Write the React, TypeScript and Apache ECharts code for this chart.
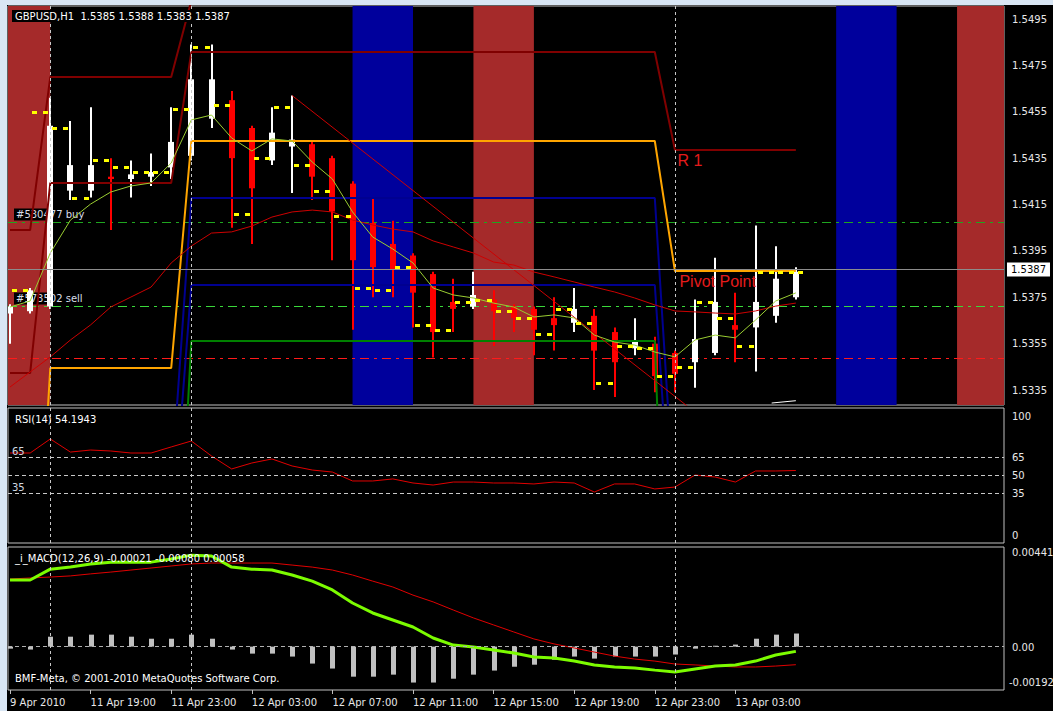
import React, { useEffect, useRef } from 'react';
import * as echarts from 'echarts';

const symbolHeader = 'GBPUSD,H1  1.5385 1.5388 1.5383 1.5387';
const rsiHeader = 'RSI(14) 54.1943';
const macdHeader = '_i_MACD(12,26,9) -0.00021 -0.00080 0.00058';
const copyright = 'BMF-Meta, \u00a9 2001-2010 MetaQuotes Software Corp.';

const timeLabels = ['9 Apr 2010', '11 Apr 19:00', '11 Apr 23:00', '12 Apr 03:00', '12 Apr 07:00', '12 Apr 11:00', '12 Apr 15:00', '12 Apr 19:00', '12 Apr 23:00', '13 Apr 03:00'];

const opens = [1.5368, 1.5369, 1.5371, 1.5421, 1.5421, 1.5427, 1.5426, 1.5427, 1.5431, 1.5436, 1.5452, 1.5460, 1.5448, 1.5434, 1.5440, 1.5441, 1.5435, 1.5424, 1.5407, 1.5398, 1.5393, 1.5385, 1.5373, 1.5371, 1.5374, 1.5371, 1.5370, 1.5366, 1.5364, 1.5367, 1.5360, 1.5353, 1.5355, 1.5351, 1.5347, 1.5351, 1.5363, 1.5362, 1.5367, 1.5375];
const closes = [1.5371, 1.5378, 1.5449, 1.5432, 1.5432, 1.5426, 1.5428, 1.5429, 1.5442, 1.5469, 1.5469, 1.5435, 1.5422, 1.5446, 1.5443, 1.5427, 1.5412, 1.5391, 1.5388, 1.5387, 1.5377, 1.5360, 1.5370, 1.5376, 1.5369, 1.5366, 1.5361, 1.5363, 1.5370, 1.5352, 1.5347, 1.5356, 1.5341, 1.5342, 1.5357, 1.5373, 1.5361, 1.5373, 1.5383, 1.5386];
const lows = [1.5355, 1.5368, 1.5370, 1.5417, 1.5418, 1.5404, 1.5418, 1.5423, 1.5426, 1.5434, 1.5448, 1.5405, 1.5398, 1.5432, 1.5420, 1.5417, 1.5391, 1.5361, 1.5375, 1.5375, 1.5362, 1.5349, 1.5360, 1.5370, 1.5354, 1.5360, 1.5350, 1.5352, 1.5360, 1.5335, 1.5332, 1.5350, 1.5334, 1.5334, 1.5336, 1.5350, 1.5347, 1.5343, 1.5364, 1.5374];
const highs = [1.5372, 1.5379, 1.5461, 1.5451, 1.5457, 1.5435, 1.5434, 1.5437, 1.5457, 1.5484, 1.5484, 1.5464, 1.5449, 1.5457, 1.5462, 1.5442, 1.5436, 1.5425, 1.5418, 1.5408, 1.5394, 1.5386, 1.5383, 1.5386, 1.5378, 1.5372, 1.5371, 1.5375, 1.5379, 1.5370, 1.5362, 1.5366, 1.5358, 1.5352, 1.5374, 1.5392, 1.5377, 1.5406, 1.5397, 1.5388];

const yellowStart = 1.5377;
const yellowMarks = [1.5378, 1.5455, 1.5448, 1.5418, 1.5434, 1.5431, 1.5429, 1.5429, 1.5456, 1.5483, 1.5458, 1.5411, 1.5435, 1.5457, 1.5432, 1.5421, 1.5410, 1.5379, 1.5378, 1.5388, 1.5363, 1.5361, 1.5373, 1.5374, 1.5369, 1.5366, 1.5359, 1.5370, 1.5364, 1.5338, 1.5354, 1.5353, 1.5341, 1.5345, 1.5373, 1.5366, 1.5354, 1.5386, 1.5386, 1.5386];

const fastMA = [1.53708, 1.53734, 1.53941, 1.54083, 1.54152, 1.54204, 1.5423, 1.54243, 1.54329, 1.54515, 1.54536, 1.54437, 1.54381, 1.54433, 1.54424, 1.54333, 1.5426, 1.54118, 1.5401, 1.53958, 1.53898, 1.5379, 1.5376, 1.53747, 1.53725, 1.53708, 1.53665, 1.53674, 1.53661, 1.53587, 1.53557, 1.53544, 1.53514, 1.53493, 1.53566, 1.53587, 1.53575, 1.53652, 1.53734, 1.53769];
const slowMA = [1.53363, 1.53428, 1.53493, 1.53566, 1.53631, 1.53708, 1.53751, 1.53794, 1.53898, 1.53971, 1.54027, 1.54032, 1.54057, 1.54096, 1.54118, 1.54126, 1.54118, 1.54083, 1.54062, 1.54044, 1.54032, 1.53993, 1.53967, 1.53941, 1.53902, 1.53889, 1.53859, 1.53838, 1.53816, 1.53794, 1.53773, 1.53747, 1.53717, 1.53691, 1.53687, 1.53682, 1.53678, 1.53691, 1.53712, 1.53725];

const daySpans = [[0, 1], [2, 8], [9, 32], [33, 39]];
const r1Levels = [1.53423, 1.54243, 1.54808, 1.54385];
const r2Levels = [1.5404, 1.5470, 1.5503, null];
const pivotLevels = [1.5200, 1.53445, 1.54424, 1.53863];
const s1Levels = [1.5292, 1.5292, 1.54178, 1.5280];
const s2Levels = [1.5268, 1.5268, 1.53803, 1.5251];
const s3Levels = [1.5194, 1.5194, 1.53561, 1.5124];

const trendLine = [[14, 1.5462], [35, 1.53186]];
const whiteSegment = [[37.8, 1.53294], [39, 1.53304]];

const orderLevels = [1.54075, 1.53712, 1.53488];
const orderLabels = ['#530477 buy', '#573502 sell', ''];
const orderColors = ['#1fa51f', '#3ad83a', '#ff1a1a'];
const lastPrice = 1.5387;

const redBands = [[-1, 2], [23, 26], [47, 50]];
const blueBands = [[17, 20], [41, 44]];
const daySeparators = [2, 9, 33];

const rsiValues = [68.9, 68.9, 80.7, 69.7, 71.4, 70.6, 68.9, 68.9, 74.0, 79.0, 66.4, 55.5, 60.5, 63.9, 58.0, 54.6, 52.9, 45.4, 45.4, 47.1, 43.7, 42.0, 44.5, 44.5, 43.7, 43.7, 42.9, 44.5, 43.7, 36.1, 42.9, 42.9, 38.7, 40.3, 50.4, 48.7, 44.5, 53.8, 53.8, 54.19];
const rsiLevels = [65, 50, 35];
const rsiTickLabels = [0, 35, 50, 65, 100];

const macdMain = [0.00295, 0.00295, 0.00343, 0.00352, 0.00366, 0.00374, 0.00374, 0.00374, 0.00388, 0.00405, 0.00401, 0.00352, 0.00343, 0.00339, 0.00317, 0.0029, 0.00251, 0.00193, 0.00149, 0.00118, 0.00087, 0.00038, 0.00007, -0.00002, -0.00015, -0.00028, -0.00046, -0.0005, -0.00064, -0.00081, -0.0009, -0.00095, -0.00104, -0.00112, -0.00099, -0.00086, -0.00081, -0.00064, -0.00037, -0.00021];
const macdSignal = [0.00299, 0.00304, 0.00308, 0.00313, 0.00322, 0.0033, 0.00339, 0.00348, 0.00357, 0.00366, 0.0037, 0.0037, 0.0037, 0.0037, 0.00361, 0.00352, 0.00339, 0.00317, 0.0029, 0.00264, 0.00228, 0.00198, 0.00162, 0.00127, 0.00096, 0.00065, 0.00034, 0.00012, -0.00006, -0.00024, -0.00042, -0.00055, -0.00064, -0.00077, -0.00081, -0.00086, -0.0009, -0.0009, -0.00086, -0.0008];
const macdHist = [-0.00009, -0.00013, 0.00044, 0.00044, 0.00053, 0.00053, 0.00044, 0.00035, 0.00035, 0.00053, 0.00035, -0.00013, -0.00031, -0.00031, -0.00044, -0.00075, -0.00097, -0.00133, -0.00133, -0.00124, -0.00159, -0.00159, -0.00142, -0.00124, -0.00106, -0.00089, -0.0008, -0.00058, -0.00044, -0.00053, -0.00044, -0.00044, -0.00044, -0.00035, -0.00009, 0.00004, 0.00009, 0.00035, 0.00053, 0.00058];

const priceAxisMin = 1.5335;
const priceAxisMax = 1.5495;
const priceAxisStep = 0.002;
const macdTop = 0.00441;
const macdBottom = -0.00192;

const X_MIN = -0.09926;
const X_MAX = 49.33;
const MAIN_MIN = 1.532855;
const MAIN_MAX = 1.550061;
const FONT = 'DejaVu Sans';
const TXT = '#e8e8e8';
const FRAME = '#c0c0c0';
const DASH_DOT = [9, 5, 3, 5];

function expandLevels(levels: (number | null)[]) {
  const out: number[][] = [];
  daySpans.forEach(([a, b], d) => {
    const v = levels[d];
    if (v == null) return;
    for (let k = a; k <= b; k++) out.push([k, v]);
  });
  return out;
}
const pairs = (arr: number[]) => arr.map((v, k) => [k, v]);

function buildOption(): any {
  const gridBase = { containLabel: false, outerBoundsMode: 'none' };
  const framed = { show: true, borderColor: FRAME, borderWidth: 1, backgroundColor: 'transparent' };
  const grid = [
    { left: 8, top: 6, width: 996, height: 399, ...framed },
    { left: 8, top: 19, width: 996, height: 371, show: false },
    { left: 8, top: 416, width: 996, height: 119, show: false },
    { left: 8, top: 408, width: 996, height: 135, ...framed },
    { left: 8, top: 547, width: 996, height: 143, ...framed },
    { left: 8, top: 552, width: 996, height: 95, show: false },
    { left: 8, top: 647, width: 996, height: 35, show: false },
    { left: 10, top: 680, width: 725.4, height: 10, show: false },
  ].map((g) => ({ ...gridBase, ...g }));

  const hiddenX = (i: number) => ({ type: 'value', gridIndex: i, min: X_MIN, max: X_MAX, show: false });
  const labelStyle = { color: TXT, fontSize: 10, fontFamily: FONT };

  const xAxis: any[] = [0, 1, 2, 3, 4, 5, 6].map(hiddenX);
  xAxis.push({
    type: 'category', gridIndex: 7, data: timeLabels, boundaryGap: false, position: 'bottom',
    axisLine: { show: false },
    axisTick: { show: true, length: 4, interval: 0, lineStyle: { color: FRAME } },
    axisLabel: { ...labelStyle, interval: 0, align: 'left', margin: 7 },
    splitLine: { show: false },
  });

  const yAxis: any[] = [
    { type: 'value', gridIndex: 0, min: MAIN_MIN, max: MAIN_MAX, show: false },
    {
      type: 'value', gridIndex: 1, position: 'right', min: priceAxisMin, max: priceAxisMax, interval: priceAxisStep,
      axisLine: { show: false }, splitLine: { show: false },
      axisTick: { show: true, length: 4, lineStyle: { color: FRAME } },
      axisLabel: { ...labelStyle, margin: 8, formatter: (v: number) => v.toFixed(4) },
    },
    {
      type: 'value', gridIndex: 2, position: 'right', min: 0, max: 100, interval: 5,
      axisLine: { show: false }, splitLine: { show: false }, axisTick: { show: false },
      axisLabel: {
        ...labelStyle, margin: 8,
        formatter: (v: number) => (Math.abs(v - Math.round(v)) < 1e-6 && rsiTickLabels.includes(Math.round(v)) ? String(Math.round(v)) : ''),
      },
    },
    { type: 'value', gridIndex: 3, min: 0, max: 1, show: false },
    { type: 'value', gridIndex: 4, min: macdBottom, max: macdTop, show: false },
    {
      type: 'value', gridIndex: 5, position: 'right', min: 0, max: macdTop, interval: macdTop,
      axisLine: { show: false }, splitLine: { show: false }, axisTick: { show: false },
      axisLabel: { ...labelStyle, margin: 8, formatter: (v: number) => (Math.abs(v) < 1e-9 ? '0.00' : v.toFixed(5)) },
    },
    {
      type: 'value', gridIndex: 6, position: 'right', min: macdBottom, max: 0, interval: -macdBottom,
      axisLine: { show: false }, splitLine: { show: false }, axisTick: { show: false },
      axisLabel: { ...labelStyle, margin: 5, formatter: (v: number) => (v < -1e-9 ? v.toFixed(5) : '') },
    },
    { type: 'value', gridIndex: 7, min: 0, max: 1, show: false },
  ];

  const sepLines = daySeparators.map((k) => ({ xAxis: k, lineStyle: { color: '#c8c8c8', type: [3, 3], width: 1 }, label: { show: false } }));
  const clampX = (v: number) => Math.min(X_MAX, Math.max(X_MIN, v));
  const bandData = [
    ...redBands.map(([a, b]) => [{ xAxis: clampX(a), itemStyle: { color: '#a52a2a' } }, { xAxis: clampX(b) }]),
    ...blueBands.map(([a, b]) => [{ xAxis: clampX(a), itemStyle: { color: '#00009c' } }, { xAxis: clampX(b) }]),
  ];

  const mainLine = (name: string, data: number[][], color: string, width: number, z: number, extra: any = {}) => ({
    name, type: 'line', xAxisIndex: 0, yAxisIndex: 0, data, symbol: 'none', silent: true, z, color,
    lineStyle: { color, width }, clip: true, ...extra,
  });
  const levelLabel = (k: number, v: number, text: string, off: number[]) => ({
    symbol: 'none', silent: true,
    data: [{
      coord: [k, v], symbol: 'rect', symbolSize: 1, itemStyle: { color: 'rgba(0,0,0,0)' },
      label: { show: true, position: off, formatter: text, color: '#e41b1b', fontSize: 16, fontFamily: 'Liberation Sans', align: 'left', verticalAlign: 'top' },
    }],
  });

  const series: any[] = [
    {
      type: 'line', xAxisIndex: 0, yAxisIndex: 0, data: [], z: 1, silent: true,
      markArea: { silent: true, data: bandData },
    },
    {
      type: 'custom', name: 'orders', xAxisIndex: 0, yAxisIndex: 0, z: 2, silent: true,
      data: orderLevels.map((lv) => [X_MIN, lv]),
      encode: { x: 0, y: 1 },
      renderItem: (params: any, api: any) => {
        const i = params.dataIndex;
        const cs = params.coordSys;
        const y = Math.round(api.coord([X_MIN, api.value(1)])[1]) + 0.5;
        const children: any[] = [
          {
            type: 'line', shape: { x1: cs.x, y1: y, x2: cs.x + cs.width, y2: y },
            style: { stroke: orderColors[i], lineWidth: 1, lineDash: DASH_DOT },
          },
        ];
        if (orderLabels[i]) {
          children.push({
            type: 'text', x: cs.x + 6, y: y - 2,
            style: {
              text: orderLabels[i], fill: '#d8dde8', font: `10px "${FONT}"`, backgroundColor: '#000',
              padding: [1, 2], verticalAlign: 'bottom', align: 'left',
            },
          });
        }
        return { type: 'group', children };
      },
    },
    {
      type: 'line', xAxisIndex: 0, yAxisIndex: 0, data: [], z: 2, silent: true, color: '#8c8c8c',
      markLine: {
        silent: true, symbol: ['none', 'none'], precision: 8,
        data: [
          {
            yAxis: lastPrice, lineStyle: { color: '#8c8c8c', type: 'solid', width: 1 },
            label: {
              show: true, position: 'end', distance: 3, formatter: lastPrice.toFixed(4), color: '#000',
              backgroundColor: '#fff', padding: [2, 4], fontSize: 10, fontFamily: FONT,
            },
          },
          ...sepLines,
        ],
      },
    },
    {
      type: 'custom', name: 'candles', xAxisIndex: 0, yAxisIndex: 0, z: 3, silent: true, clip: true,
      data: opens.map((o, k) => [k, o, closes[k], lows[k], highs[k]]),
      encode: { x: 0, y: [1, 2, 3, 4] },
      renderItem: (params: any, api: any) => {
        const k = api.value(0);
        const o = api.value(1), c = api.value(2), l = api.value(3), h = api.value(4);
        const pH = api.coord([k, h]);
        const pL = api.coord([k, l]);
        const pO = api.coord([k, o]);
        const pC = api.coord([k, c]);
        const color = c >= o ? '#ffffff' : '#ff0000';
        const cx = Math.round(pH[0]);
        const top = Math.min(pO[1], pC[1]);
        const bh = Math.max(Math.abs(pO[1] - pC[1]), 1.5);
        return {
          type: 'group',
          children: [
            { type: 'rect', shape: { x: cx - 1, y: pH[1], width: 2, height: Math.max(pL[1] - pH[1], 1) }, style: { fill: color } },
            { type: 'rect', shape: { x: cx - 3, y: top, width: 6, height: bh }, style: { fill: color } },
          ],
        };
      },
    },
    mainLine('R2', expandLevels(r2Levels), '#800000', 2, 4),
    mainLine('R1', expandLevels(r1Levels), '#800000', 2, 4, { markPoint: levelLabel(33, r1Levels[3] as number, 'R 1', [3, 3]) }),
    mainLine('S1', expandLevels(s1Levels), '#000090', 2, 4),
    mainLine('S2', expandLevels(s2Levels), '#000090', 2, 4),
    mainLine('S3', expandLevels(s3Levels), '#008000', 2, 4),
    mainLine('Pivot', expandLevels(pivotLevels), '#ffa500', 2, 4, { markPoint: levelLabel(33, pivotLevels[3] as number, 'Pivot Point', [5, 3]) }),
    mainLine('Trend', trendLine, '#cc0000', 1, 4),
    mainLine('SlowMA', pairs(slowMA), '#cc0000', 1, 4),
    mainLine('FastMA', pairs(fastMA), '#9acd32', 1, 4),
    mainLine('White', whiteSegment, '#ffffff', 1, 4),
    {
      type: 'custom', name: 'yellow', xAxisIndex: 0, yAxisIndex: 0, z: 5, silent: true, clip: true,
      data: yellowMarks.map((v, k) => [k, k > 0 ? yellowMarks[k - 1] : yellowStart, v]),
      encode: { x: 0, y: [1, 2] },
      renderItem: (params: any, api: any) => {
        const k = api.value(0);
        const pp = api.coord([k, api.value(1)]);
        const pc = api.coord([k, api.value(2)]);
        const cx = Math.round(pc[0]);
        return {
          type: 'group',
          children: [
            { type: 'rect', shape: { x: cx - 7, y: Math.round(pp[1]) - 1, width: 5, height: 3 }, style: { fill: '#ffff00' } },
            { type: 'rect', shape: { x: cx + 2, y: Math.round(pc[1]) - 1, width: 5, height: 3 }, style: { fill: '#ffff00' } },
          ],
        };
      },
    },
    {
      type: 'line', name: 'RSI', xAxisIndex: 2, yAxisIndex: 2, data: pairs(rsiValues), symbol: 'none', silent: true, z: 4,
      color: '#e00000', lineStyle: { color: '#e00000', width: 1 },
      markLine: {
        silent: true, symbol: ['none', 'none'], precision: 8,
        data: rsiLevels.map((lv) => ({
          yAxis: lv, lineStyle: { color: '#c8c8c8', type: [4, 3], width: 1 },
          label: lv === 50 ? { show: false } : { show: true, position: 'insideStartTop', distance: [4, 1], formatter: String(lv), color: '#d0d8e0', fontSize: 10, fontFamily: FONT },
        })),
      },
    },
    {
      type: 'line', xAxisIndex: 3, yAxisIndex: 3, data: [], silent: true, z: 3, color: '#c8c8c8',
      markLine: { silent: true, symbol: ['none', 'none'], precision: 8, data: sepLines },
    },
    {
      type: 'custom', name: 'hist', xAxisIndex: 4, yAxisIndex: 4, z: 3, silent: true, clip: true,
      data: pairs(macdHist), encode: { x: 0, y: 1 },
      renderItem: (params: any, api: any) => {
        const k = api.value(0);
        const v = api.value(1);
        const p0 = api.coord([k, 0]);
        const p1 = api.coord([k, v]);
        const cx = Math.round(p0[0]);
        return { type: 'rect', shape: { x: cx - 2, y: Math.min(p0[1], p1[1]), width: 5, height: Math.max(Math.abs(p1[1] - p0[1]), 1) }, style: { fill: '#c0c0c0' } };
      },
    },
    {
      type: 'line', name: 'Signal', xAxisIndex: 4, yAxisIndex: 4, data: pairs(macdSignal), symbol: 'none', silent: true, z: 4,
      color: '#e00000', lineStyle: { color: '#e00000', width: 1 },
    },
    {
      type: 'line', name: 'MACD', xAxisIndex: 4, yAxisIndex: 4, data: pairs(macdMain), symbol: 'none', silent: true, z: 4,
      color: '#7cfc00', lineStyle: { color: '#7cfc00', width: 3 },
    },
    {
      type: 'line', xAxisIndex: 4, yAxisIndex: 4, data: [], silent: true, z: 2, color: '#b0b0b0',
      markLine: {
        silent: true, symbol: ['none', 'none'], precision: 8,
        data: [{ yAxis: 0, lineStyle: { color: '#b0b0b0', type: [4, 3], width: 1 }, label: { show: false } }, ...sepLines],
      },
    },
  ];

  const titleStyle = { color: '#ffffff', fontSize: 10, fontWeight: 'normal', fontFamily: FONT };
  return {
    animation: false,
    backgroundColor: '#000000',
    title: [
      { text: symbolHeader, left: 12, top: 10, padding: [1, 3], backgroundColor: '#000', textStyle: titleStyle },
      { text: rsiHeader, left: 12, top: 413, padding: [1, 3], textStyle: titleStyle },
      { text: macdHeader, left: 12, top: 552, padding: [1, 3], textStyle: titleStyle },
      { text: copyright, left: 12, top: 672, padding: [1, 3], textStyle: titleStyle },
    ],
    graphic: {
      elements: [
        { type: 'rect', silent: true, z: 100, shape: { x: 0, y: 0, width: 1053, height: 5 }, style: { fill: '#d9e6f4' } },
        { type: 'rect', silent: true, z: 100, shape: { x: 0, y: 0, width: 7, height: 711 }, style: { fill: '#d9e6f4' } },
      ],
    },
    grid, xAxis, yAxis, series,
  };
}

export default function App() {
  const ref = useRef<HTMLDivElement>(null);
  useEffect(() => {
    document.body.style.margin = '0';
    const chart = echarts.init(ref.current as HTMLDivElement, null, { renderer: 'svg' });
    chart.setOption(buildOption());
    return () => chart.dispose();
  }, []);
  return <div ref={ref} style={{ width: 1053, height: 711 }} />;
}
